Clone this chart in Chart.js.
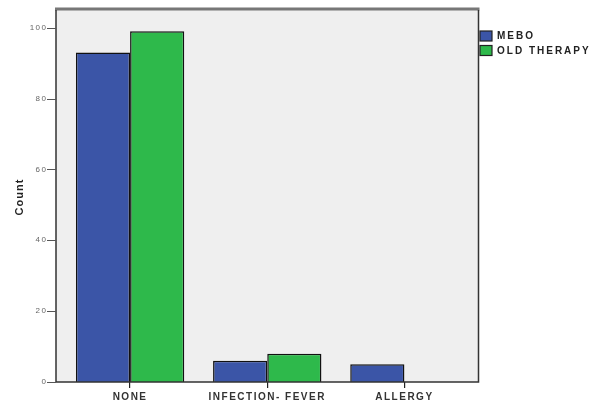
<!DOCTYPE html>
<html>
<head>
<meta charset="utf-8">
<script src="https://cdn.jsdelivr.net/npm/chart.js@4/dist/chart.umd.min.js"></script>
<style>
  html, body { margin: 0; padding: 0; background: #fff; }
  #wrap { width: 600px; height: 412px; }
</style>
</head>
<body>
<div id="wrap"><canvas id="c" width="600" height="412"></canvas></div>
<script>
const categories = ['NONE', 'INFECTION- FEVER', 'ALLERGY'];
const seriesNames = ['MEBO', 'OLD THERAPY'];
const meboCounts = [93, 6, 5];
const oldTherapyCounts = [99, 8, 0];
const yTickValues = [0, 20, 40, 60, 80, 100];
const axisTitle = 'Count';

const BLUE = '#3b55a7';
const GREEN = '#2eb94b';
const INSET = 5.5; // frame extends beyond the category range

const decor = {
  id: 'decor',
  beforeDraw(chart) {
    const { ctx, chartArea: a } = chart;
    ctx.save();
    ctx.fillStyle = '#efefef';
    ctx.fillRect(a.left - INSET, a.top, a.right - a.left + 2 * INSET, a.bottom - a.top);
    ctx.restore();
    ctx.letterSpacing = '1.5px';
  },
  afterDatasetsDraw(chart) {
    const { ctx, chartArea: a, scales } = chart;
    const L = a.left - INSET, R = a.right + INSET;
    ctx.save();
    ctx.strokeStyle = '#777';
    ctx.lineWidth = 3;
    ctx.beginPath();
    ctx.moveTo(L - 1, a.top - 1);
    ctx.lineTo(R + 1, a.top - 1);
    ctx.stroke();
    ctx.strokeStyle = '#333';
    ctx.lineWidth = 1.5;
    ctx.beginPath();
    ctx.moveTo(L, a.top);
    ctx.lineTo(L, a.bottom);
    ctx.lineTo(R, a.bottom);
    ctx.lineTo(R, a.top);
    ctx.stroke();
    // y tick marks
    ctx.strokeStyle = '#555';
    ctx.lineWidth = 1;
    yTickValues.forEach(v => {
      const y = Math.round(scales.y.getPixelForValue(v)) + 0.5;
      ctx.beginPath();
      ctx.moveTo(L - 9, y);
      ctx.lineTo(L, y);
      ctx.stroke();
    });
    ctx.restore();
  },
  afterDraw(chart) {
    const { ctx } = chart;
    ctx.save();
    ctx.letterSpacing = '1px';
    ctx.fillStyle = '#222';
    ctx.font = 'bold 11px "Liberation Sans", Arial, sans-serif';
    ctx.textAlign = 'center';
    ctx.textBaseline = 'middle';
    ctx.translate(20, 197);
    ctx.rotate(-Math.PI / 2);
    ctx.fillText(axisTitle, 0, 0);
    ctx.restore();

    // legend
    ctx.save();
    ctx.letterSpacing = '2px';
    const ds = chart.data.datasets;
    ds.forEach((d, i) => {
      const y = 31 + i * 14.5;
      ctx.fillStyle = d.backgroundColor;
      ctx.fillRect(480, y, 12, 10);
      ctx.strokeStyle = '#222';
      ctx.lineWidth = 1.2;
      ctx.strokeRect(480, y, 12, 10);
      ctx.fillStyle = '#222';
      ctx.font = 'bold 10px "Liberation Sans", Arial, sans-serif';
      ctx.textAlign = 'left';
      ctx.textBaseline = 'middle';
      ctx.fillText(d.label, 497, y + 5.5);
    });
    ctx.restore();
  }
};

new Chart(document.getElementById('c'), {
  type: 'bar',
  data: {
    labels: categories,
    datasets: [
      { label: seriesNames[0], data: meboCounts, backgroundColor: BLUE, borderColor: '#111', borderWidth: 1.5, inflateAmount: 0 },
      { label: seriesNames[1], data: oldTherapyCounts, backgroundColor: GREEN, borderColor: '#111', borderWidth: 1.5, inflateAmount: 0 }
    ]
  },
  options: {
    responsive: false,
    animation: false,
    devicePixelRatio: 1,
    layout: { padding: { left: 0, top: 10, right: 127, bottom: 0 } },
    plugins: { legend: { display: false }, tooltip: { enabled: false } },
    datasets: { bar: { categoryPercentage: 0.79, barPercentage: 1.0 } },
    scales: {
      x: {
        afterFit(s) { s.height = 30; s.paddingLeft = 0; s.paddingRight = 0; },
        border: { display: false },
        grid: { offset: false, drawOnChartArea: false, drawTicks: true, tickLength: 6, color: '#222', lineWidth: 1.2 },
        ticks: { color: '#333', padding: 3, font: { family: '"Liberation Sans", Arial, sans-serif', size: 10, weight: 'bold' } }
      },
      y: {
        min: 0,
        max: 105,
        afterFit(s) { s.width = 61.5; s.paddingTop = 0; s.paddingBottom = 0; },
        afterBuildTicks(s) { s.ticks = yTickValues.map(v => ({ value: v })); },
        border: { display: false },
        grid: { display: false, drawOnChartArea: false, drawTicks: false },
        ticks: { color: '#666', padding: 14, font: { family: '"Liberation Sans", Arial, sans-serif', size: 8 } }
      }
    }
  },
  plugins: [decor]
});
</script>
</body>
</html>
